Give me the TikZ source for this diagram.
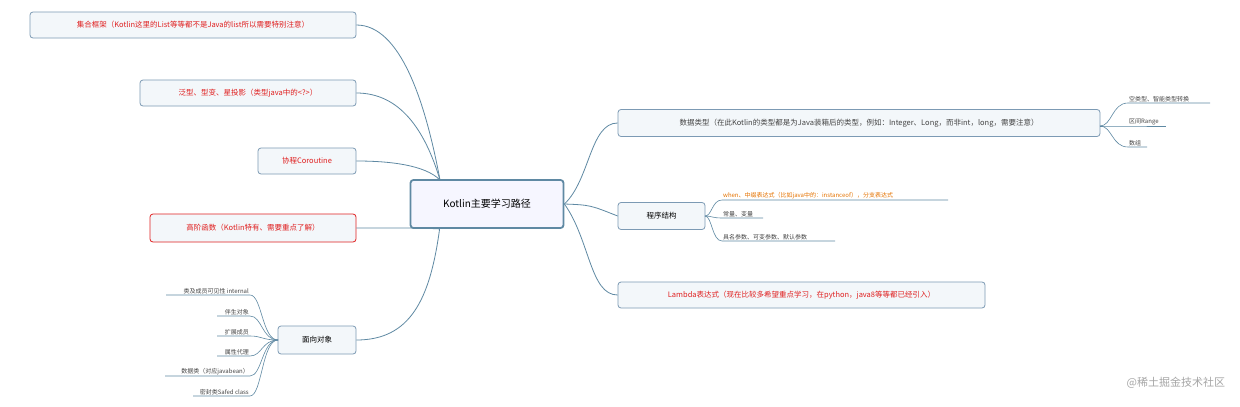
\documentclass[tikz,border=0pt]{standalone}
\usepackage{fontspec}
\setmainfont{Noto Sans CJK SC}
\begin{document}
\begin{tikzpicture}[x=1pt,y=-1pt,
  box/.style={draw=boxb,fill=boxf,rounded corners=3pt,line width=0.8pt,inner sep=0pt,anchor=center},
  red/.style={text=txtred},
  conn/.style={draw=linec,line width=0.8pt},
  leaf/.style={font=\fontsize{6}{7}\selectfont,text=txtg,anchor=south west,inner sep=1pt}]
\definecolor{boxb}{HTML}{7C9AB4}
\definecolor{boxf}{HTML}{F3F7FA}
\definecolor{linec}{HTML}{5F89A3}
\definecolor{txtred}{HTML}{E02020}
\definecolor{txtg}{HTML}{444444}
\useasboundingbox (0,0) rectangle (1240,407);
\fill[white] (0,0) rectangle (1240,407);
\footnotesize
% central
\node[box,draw=linec,line width=1.8pt,fill=boxf!60!blue!8,minimum width=153pt,minimum height=48pt,font=\fontsize{10}{12}\selectfont] (c) at (487,204) {Kotlin主要学习路径};
% left
\node[box,red,minimum width=326pt,minimum height=26pt,font=\fontsize{7.5}{9}\selectfont] (l1) at (193,25) {集合框架（Kotlin这里的List等等都不是Java的list所以需要特别注意）};
\node[box,red,minimum width=216pt,minimum height=26pt,font=\fontsize{7.5}{9}\selectfont] (l2) at (248,93) {泛型、型变、星投影（类型java中的<?>）};
\node[box,red,minimum width=98pt,minimum height=26pt,font=\fontsize{7.5}{9}\selectfont] (l3) at (307,161) {协程Coroutine};
\node[box,red,draw=txtred,minimum width=206pt,minimum height=28pt,font=\fontsize{7.5}{9}\selectfont] (l4) at (253,228) {高阶函数（Kotlin特有、需要重点了解）};
\node[box,minimum width=78pt,minimum height=28pt,font=\fontsize{7.5}{9}\selectfont] (l5) at (317,340) {面向对象};
% right
\node[box,minimum width=482pt,minimum height=27pt,font=\fontsize{7.5}{9}\selectfont,text=txtg] (r1) at (859,123) {数据类型（在此Kotlin的类型都是为Java装箱后的类型，例如：Integer、Long，而非int，long，需要注意）};
\node[box,minimum width=87pt,minimum height=27pt,font=\fontsize{7.5}{9}\selectfont] (r2) at (661.5,216) {程序结构};
\node[box,red,minimum width=367pt,minimum height=26pt,font=\fontsize{7.5}{9}\selectfont] (r3) at (801.5,295) {Lambda表达式（现在比较多希望重点学习，在python，java8等等都已经引入）};
% connectors from center
\coordinate (cl) at (440,180);
\draw[conn] (cl) .. controls (425,100) and (400,25) .. (l1.east);
\draw[conn] (cl) .. controls (425,130) and (400,93) .. (l2.east);
\draw[conn] (cl) .. controls (425,165) and (390,161) .. (l3.east);
\draw[conn] (c.south west) ++(30,0) coordinate (cs) .. controls (420,228) .. (l4.east);
\draw[conn] (cs) .. controls (430,300) and (410,340) .. (l5.east);
\draw[conn] (c.east) .. controls (590,180) and (590,123) .. (r1.west);
\draw[conn] (c.east) .. controls (590,205) .. (r2.west);
\draw[conn] (c.east) .. controls (590,240) and (590,295) .. (r3.west);
% data type leaves
\coordinate (h1) at (1100,126);
\foreach \n/\y/\e/\t in {a/103/1210/空类型、智能类型转换,b/126/1166/区间Range,c/147/1147/数组}{
  \node[leaf] (d\n) at (1128,\y) {\t};
  \draw[conn,line width=0.6pt] (h1) .. controls (1112,126) and (1112,\y) .. (1128,\y) -- (\e,\y);
}
% 程序结构 leaves
\coordinate (h2) at (705,216);
\node[leaf,text=orange!90!black] (pa) at (722,200) {when、中缀表达式（比如java中的：instanceof），分支表达式};
\draw[conn,line width=0.6pt] (h2) .. controls (712,216) and (712,200) .. (722,200) -- (948,200);
\node[leaf] (pb) at (722,218) {常量、变量};
\draw[conn,line width=0.6pt] (h2) .. controls (712,216) and (712,218) .. (722,218) -- (763,218);
\node[leaf] (pc) at (722,241) {具名参数、可变参数、默认参数};
\draw[conn,line width=0.6pt] (h2) .. controls (712,216) and (712,241) .. (722,241) -- (835,241);
% 面向对象 leaves
\coordinate (h3) at (278,340);
\foreach \n/\y/\s/\t in {a/295/166/类及成员可见性 internal,b/316/217/伴生对象,c/336/217/扩展成员,d/356/217/属性代理,e/376/165/数据类（对应javabean）,f/396/193/密封类Safed class}{
  \node[leaf,anchor=south east] (o\n) at (250,\y) {\t};
  \draw[conn,line width=0.6pt] (h3) .. controls (262,340) and (262,\y) .. (250,\y) -- (\s,\y);
}
\node[anchor=east,text=gray!70,font=\fontsize{11}{12}\selectfont] (wm) at (1228,383) {@稀土掘金技术社区};
\end{tikzpicture}
\end{document}
